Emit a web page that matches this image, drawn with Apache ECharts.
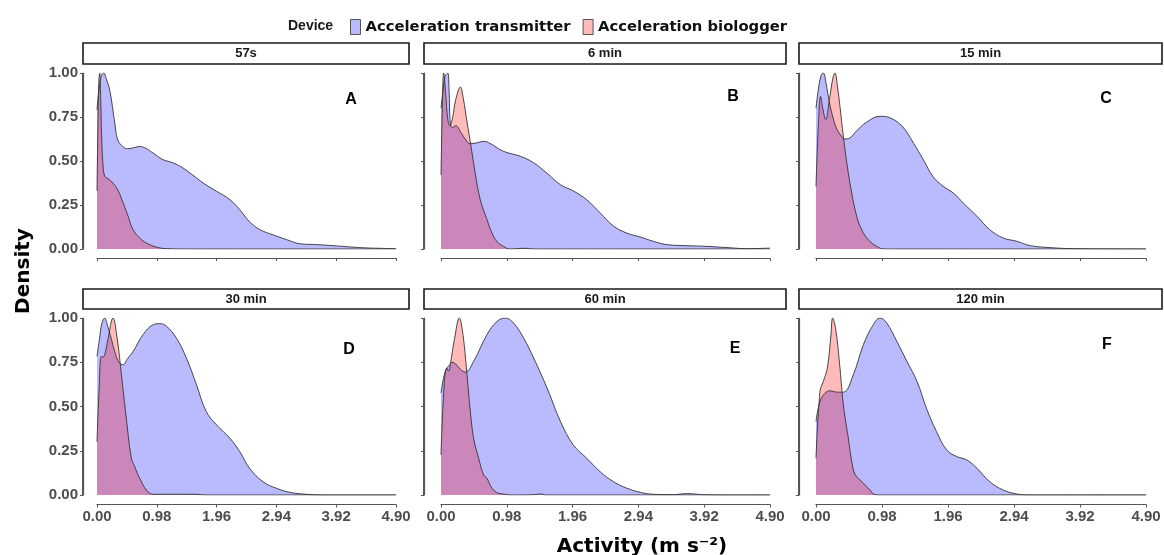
<!DOCTYPE html>
<html>
<head>
<meta charset="utf-8">
<script src="https://cdn.jsdelivr.net/npm/echarts@6/dist/echarts.min.js"></script>
<style>
  html, body { margin: 0; padding: 0; background: #ffffff; }
  #chart { width: 1164px; height: 555px; }
</style>
</head>
<body>
<div id="chart"></div>
<script>
// Scaled kernel densities of activity (m s-2) for the two devices,
// one facet per sampling interval.
const intervals = ['57s', '6 min', '15 min', '30 min', '60 min', '120 min'];
const panelLetters = ['A', 'B', 'C', 'D', 'E', 'F'];
const devices = ['Acceleration transmitter', 'Acceleration biologger'];
const xTicks = [0.00, 0.98, 1.96, 2.94, 3.92, 4.90];
const yTicks = [0.00, 0.25, 0.50, 0.75, 1.00];

// [activity, scaled density]
const transmitter57s = [[0,0.79],[0.02,0.87],[0.05,0.95],[0.08,0.99],[0.11,1.0],[0.15,0.97],[0.21,0.9],[0.29,0.72],[0.34,0.62],[0.43,0.58],[0.5,0.57],[0.6,0.575],[0.7,0.583],[0.8,0.572],[0.92,0.545],[1.08,0.508],[1.25,0.489],[1.41,0.46],[1.57,0.42],[1.74,0.375],[1.96,0.328],[2.18,0.28],[2.34,0.223],[2.5,0.155],[2.67,0.11],[2.89,0.08],[3.11,0.053],[3.32,0.03],[3.6,0.025],[3.87,0.019],[4.14,0.012],[4.42,0.006],[4.9,0.002]];
const biologger57s = [[0,0.33],[0.015,0.7],[0.03,0.95],[0.045,1.0],[0.06,0.85],[0.08,0.6],[0.1,0.47],[0.13,0.41],[0.18,0.40],[0.26,0.375],[0.34,0.337],[0.43,0.26],[0.51,0.186],[0.59,0.11],[0.7,0.0625],[0.81,0.034],[0.97,0.011],[1.14,0.002],[1.5,0],[4.9,0]];

const transmitter6min = [[0,0.80],[0.03,0.9],[0.06,0.98],[0.1,1.0],[0.12,0.9],[0.14,0.71],[0.17,0.69],[0.22,0.70],[0.3,0.66],[0.37,0.62],[0.44,0.598],[0.55,0.605],[0.64,0.612],[0.73,0.60],[0.93,0.555],[1.18,0.527],[1.38,0.49],[1.58,0.43],[1.78,0.365],[1.97,0.33],[2.17,0.28],[2.37,0.205],[2.57,0.13],[2.77,0.09],[2.97,0.068],[3.16,0.044],[3.36,0.025],[3.66,0.019],[3.96,0.015],[4.26,0.008],[4.55,0.002],[4.9,0.005]];
const biologger6min = [[0,0.42],[0.02,0.8],[0.04,1.0],[0.07,0.88],[0.1,0.74],[0.13,0.70],[0.17,0.74],[0.22,0.85],[0.29,0.92],[0.33,0.86],[0.39,0.716],[0.44,0.60],[0.51,0.43],[0.585,0.28],[0.685,0.167],[0.76,0.09],[0.83,0.044],[0.93,0.015],[1.03,0.0],[1.23,0.004],[1.4,0],[4.9,0]];

const transmitter15min = [[0,0.80],[0.04,0.92],[0.08,0.99],[0.11,1.0],[0.15,0.94],[0.2,0.83],[0.25,0.75],[0.3,0.69],[0.36,0.65],[0.43,0.625],[0.5,0.63],[0.6,0.67],[0.75,0.72],[0.95,0.754],[1.1,0.745],[1.29,0.693],[1.45,0.60],[1.59,0.51],[1.74,0.41],[1.89,0.356],[2.04,0.318],[2.19,0.26],[2.39,0.186],[2.58,0.11],[2.78,0.0625],[2.98,0.044],[3.18,0.019],[3.47,0.008],[3.82,0.002],[4.9,0]];
const biologger15min = [[0,0.356],[0.035,0.7],[0.069,0.867],[0.1,0.8],[0.144,0.735],[0.2,0.85],[0.25,0.97],[0.282,1.0],[0.32,0.92],[0.356,0.81],[0.406,0.64],[0.465,0.47],[0.53,0.318],[0.604,0.186],[0.678,0.11],[0.777,0.053],[0.9,0.015],[1.02,0],[4.9,0]];

const transmitter30min = [[0,0.783],[0.04,0.88],[0.08,0.97],[0.126,1.0],[0.17,0.96],[0.22,0.9],[0.3,0.8],[0.36,0.75],[0.426,0.736],[0.5,0.77],[0.59,0.81],[0.755,0.906],[0.92,0.962],[1.03,0.968],[1.14,0.953],[1.30,0.887],[1.465,0.774],[1.63,0.623],[1.79,0.472],[1.96,0.396],[2.18,0.32],[2.34,0.245],[2.5,0.151],[2.72,0.075],[2.94,0.038],[3.16,0.015],[3.43,0.004],[3.7,0],[4.9,0]];
const biologger30min = [[0,0.30],[0.035,0.6],[0.071,0.783],[0.1,0.78],[0.126,0.79],[0.18,0.88],[0.262,1.0],[0.33,0.887],[0.4,0.68],[0.48,0.434],[0.563,0.208],[0.618,0.16],[0.70,0.094],[0.81,0.028],[0.92,0.004],[1.2,0.004],[1.35,0.004],[1.6,0.004],[1.8,0],[4.9,0]];

const transmitter60min = [[0,0.575],[0.064,0.70],[0.129,0.736],[0.164,0.75],[0.22,0.74],[0.29,0.71],[0.362,0.694],[0.486,0.755],[0.685,0.906],[0.833,0.98],[0.957,1.0],[1.08,0.972],[1.23,0.887],[1.38,0.774],[1.58,0.604],[1.78,0.415],[1.97,0.283],[2.17,0.208],[2.37,0.132],[2.57,0.075],[2.77,0.038],[2.97,0.015],[3.16,0.004],[3.46,0.002],[3.66,0.008],[3.76,0.006],[3.91,0.002],[4.2,0],[4.9,0]];
const biologger60min = [[0,0.226],[0.05,0.64],[0.089,0.717],[0.115,0.70],[0.14,0.74],[0.2,0.88],[0.273,1.0],[0.327,0.906],[0.387,0.68],[0.437,0.472],[0.486,0.32],[0.56,0.208],[0.635,0.113],[0.685,0.094],[0.76,0.038],[0.86,0.009],[0.93,0.006],[1.03,0],[1.4,0.002],[1.48,0.006],[1.56,0],[4.9,0]];

const transmitter120min = [[0,0.415],[0.059,0.528],[0.134,0.575],[0.208,0.589],[0.307,0.581],[0.406,0.581],[0.554,0.679],[0.703,0.849],[0.851,0.962],[0.95,1.0],[1.05,0.972],[1.2,0.868],[1.35,0.755],[1.50,0.642],[1.64,0.49],[1.79,0.358],[1.94,0.255],[2.09,0.217],[2.24,0.198],[2.39,0.151],[2.58,0.075],[2.78,0.028],[2.98,0.006],[3.18,0],[4.9,0]];
const biologger120min = [[0,0.208],[0.059,0.585],[0.109,0.642],[0.168,0.717],[0.218,0.887],[0.248,1.0],[0.297,0.925],[0.356,0.717],[0.406,0.509],[0.48,0.32],[0.53,0.189],[0.579,0.117],[0.653,0.085],[0.728,0.057],[0.802,0.028],[0.861,0.004],[0.95,0],[4.9,0]];

const transmitterCurves = [transmitter57s, transmitter6min, transmitter15min, transmitter30min, transmitter60min, transmitter120min];
const biologgerCurves = [biologger57s, biologger6min, biologger15min, biologger30min, biologger60min, biologger120min];

// ---- layout of the 3 x 2 facet grid (pixels) ----
const cols = [
  { panelLeft: 83,  panelRight: 409,  dataLeft: 97,  dataRight: 396 },
  { panelLeft: 424, panelRight: 786,  dataLeft: 441, dataRight: 770 },
  { panelLeft: 799, panelRight: 1162, dataLeft: 816, dataRight: 1146 }
];
const rows = [
  { stripTop: 43,  stripBottom: 64,  dataTop: 73,  dataBottom: 249, axisGap: 9 },
  { stripTop: 289, stripBottom: 309, dataTop: 318, dataBottom: 495, axisGap: 9.5 }
];
const letterPos = [[351, 100], [733, 97], [1106, 99], [349, 350], [735, 349], [1107, 345]];

const fills = ['rgba(0,0,255,0.27)', 'rgba(255,0,0,0.27)'];
const outline = '#333333';
const axisGrey = '#555555';
const tickFont = { fontFamily: 'Liberation Sans, Arial, sans-serif', fontWeight: 'bold', fontSize: 15, color: '#4d4d4d' };

const grids = [], xAxes = [], yAxes = [], series = [], graphics = [];

for (let i = 0; i < intervals.length; i++) {
  const c = cols[i % 3], r = rows[Math.floor(i / 3)];
  const isBottom = i >= 3, isLeft = i % 3 === 0;

  grids.push({
    left: c.dataLeft, top: r.dataTop,
    width: c.dataRight - c.dataLeft, height: r.dataBottom - r.dataTop,
    containLabel: false
  });

  xAxes.push({
    type: 'value', gridIndex: i,
    min: xTicks[0], max: xTicks[xTicks.length - 1], interval: xTicks[1] - xTicks[0],
    offset: r.axisGap,
    axisLine: { show: true, onZero: false, lineStyle: { color: axisGrey, width: 1.2 } },
    axisTick: { show: true, length: 3, inside: false, lineStyle: { color: axisGrey, width: 1 } },
    axisLabel: { show: isBottom, margin: 5, ...tickFont, formatter: v => v.toFixed(2), showMaxLabel: true, showMinLabel: true },
    splitLine: { show: false }
  });

  yAxes.push({
    type: 'value', gridIndex: i,
    min: yTicks[0], max: yTicks[yTicks.length - 1], interval: yTicks[1] - yTicks[0],
    offset: c.dataLeft - c.panelLeft,
    axisLine: { show: true, onZero: false, lineStyle: { color: axisGrey, width: 1.2 } },
    axisTick: { show: true, length: 3, lineStyle: { color: axisGrey, width: 1 } },
    axisLabel: { show: isLeft, margin: 5, ...tickFont, formatter: v => v.toFixed(2) },
    splitLine: { show: false }
  });

  [transmitterCurves[i], biologgerCurves[i]].forEach((curve, k) => {
    series.push({
      type: 'line', name: devices[k],
      xAxisIndex: i, yAxisIndex: i,
      data: curve,
      smooth: 0.4,
      symbol: 'none', showSymbol: false,
      lineStyle: { color: outline, width: 0.9 },
      itemStyle: { color: fills[k] },
      areaStyle: { color: fills[k], opacity: 1, origin: 'start' },
      silent: true
    });
  });

  // facet strip
  graphics.push({
    type: 'rect',
    shape: { x: c.panelLeft, y: r.stripTop, width: c.panelRight - c.panelLeft, height: r.stripBottom - r.stripTop },
    style: { fill: '#ffffff', stroke: '#1a1a1a', lineWidth: 1.6 }
  });
  graphics.push({
    type: 'text',
    x: (c.panelLeft + c.panelRight) / 2, y: (r.stripTop + r.stripBottom) / 2,
    style: {
      text: intervals[i], fill: '#1a1a1a',
      font: 'bold 13px "Liberation Sans", Arial, sans-serif',
      textAlign: 'center', textVerticalAlign: 'middle'
    }
  });
  // panel letter
  graphics.push({
    type: 'text',
    x: letterPos[i][0], y: letterPos[i][1],
    style: {
      text: panelLetters[i], fill: '#000000',
      font: 'bold 16px "Liberation Sans", Arial, sans-serif',
      textAlign: 'center', textVerticalAlign: 'middle'
    }
  });
}

// axis titles and legend title
graphics.push({
  type: 'text', x: 642, y: 547,
  style: {
    text: 'Activity (m s\u207B\u00B2)', fill: '#000000',
    font: 'bold 20px "DejaVu Sans", sans-serif',
    textAlign: 'center', textVerticalAlign: 'middle'
  }
});
graphics.push({
  type: 'text', x: 24, y: 271, rotation: Math.PI / 2,
  style: {
    text: 'Density', fill: '#000000',
    font: 'bold 20px "DejaVu Sans", sans-serif',
    textAlign: 'center', textVerticalAlign: 'middle'
  }
});
graphics.push({
  type: 'text', x: 288, y: 26.5,
  style: {
    text: 'Device', fill: '#1a1a1a',
    font: 'bold 14px "Liberation Sans", Arial, sans-serif',
    textAlign: 'left', textVerticalAlign: 'middle'
  }
});

const chart = echarts.init(document.getElementById('chart'), null, { renderer: 'canvas' });
chart.setOption({
  animation: false,
  backgroundColor: '#ffffff',
  legend: {
    left: 350, top: 19, padding: 0,
    itemWidth: 10, itemHeight: 15, itemGap: 12,
    selectedMode: false,
    textStyle: { fontFamily: 'DejaVu Sans', fontWeight: 'bold', fontSize: 14.8, color: '#111111' },
    data: devices.map((d, k) => ({
      name: d, icon: 'rect',
      itemStyle: { color: fills[k], borderColor: '#555555', borderWidth: 1 }
    }))
  },
  grid: grids,
  xAxis: xAxes,
  yAxis: yAxes,
  series: series,
  graphic: graphics
});

// Capped y-axis rules: drawn from the axis' own 0..1 pixel span,
// shifted to the panel's left edge.
const yRules = [];
for (let i = 0; i < intervals.length; i++) {
  const c = cols[i % 3];
  const pBottom = chart.convertToPixel({ gridIndex: i }, [xTicks[0], yTicks[0]]);
  const pTop = chart.convertToPixel({ gridIndex: i }, [xTicks[0], yTicks[yTicks.length - 1]]);
  const xRule = Math.round(pBottom[0] - (c.dataLeft - c.panelLeft)) - 0.5;
  yRules.push({
    type: 'line', z: 50, silent: true,
    shape: { x1: xRule, y1: pTop[1], x2: xRule, y2: pBottom[1] },
    style: { stroke: axisGrey, lineWidth: 1 }
  });
}
chart.setOption({ graphic: graphics.concat(yRules) });
</script>
</body>
</html>
